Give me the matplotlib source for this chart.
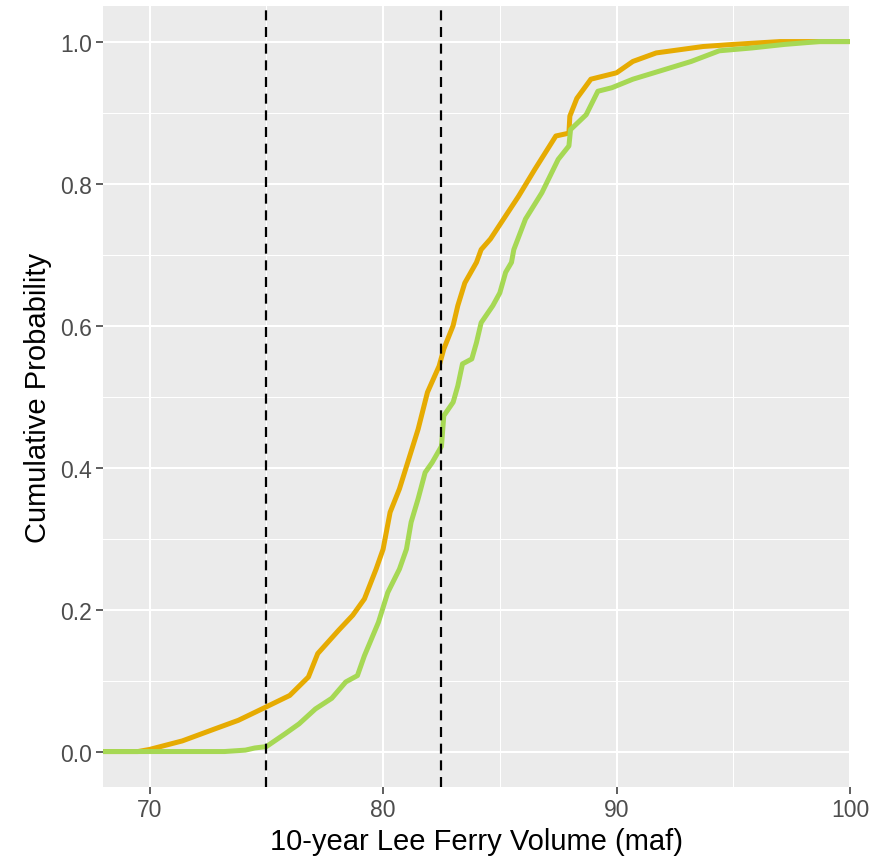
import matplotlib.pyplot as plt
from matplotlib.ticker import MultipleLocator

plt.rcParams['font.family'] = ['Liberation Sans', 'DejaVu Sans']

# === Curves (volume in maf, cumulative probability) ===
orange_x = [68.0, 69.5, 70.0, 71.4, 72.8, 73.8, 75.0, 76.0, 76.8, 77.2, 78.1, 78.7,
            79.2, 79.7, 80.0, 80.3, 80.7, 81.1, 81.5, 81.9, 82.4, 82.6, 83.0, 83.2,
            83.5, 84.0, 84.2, 84.6, 85.8, 86.5, 87.4, 87.96, 88.0, 88.3, 88.9, 90.0,
            90.7, 91.7, 93.7, 95.0, 97.0, 100.0]
orange_y = [0.0, 0.0, 0.003, 0.015, 0.032, 0.044, 0.063, 0.079, 0.105, 0.138, 0.171, 0.192,
            0.215, 0.257, 0.285, 0.337, 0.370, 0.412, 0.454, 0.506, 0.543, 0.567, 0.600, 0.628,
            0.660, 0.689, 0.707, 0.722, 0.782, 0.820, 0.867, 0.871, 0.895, 0.920, 0.947, 0.956,
            0.972, 0.984, 0.993, 0.996, 1.0, 1.0]

green_x = [68.0, 73.2, 74.1, 74.5, 75.0, 75.8, 76.4, 77.1, 77.8, 78.4, 78.9, 79.2,
           79.8, 80.2, 80.7, 81.0, 81.2, 81.5, 81.8, 82.1, 82.5, 82.6, 83.0, 83.2,
           83.4, 83.8, 84.0, 84.2, 84.7, 85.0, 85.25, 85.5, 85.6, 86.1, 86.8, 87.5,
           87.96, 88.03, 88.7, 89.2, 89.8, 90.7, 91.8, 93.2, 94.4, 95.8, 97.2, 98.7, 100.0]
green_y = [0.0, 0.0, 0.002, 0.005, 0.007, 0.025, 0.039, 0.060, 0.075, 0.098, 0.107, 0.135,
           0.182, 0.224, 0.257, 0.285, 0.323, 0.356, 0.393, 0.407, 0.430, 0.473, 0.492, 0.515,
           0.546, 0.553, 0.576, 0.604, 0.628, 0.646, 0.675, 0.689, 0.707, 0.750, 0.787, 0.834,
           0.853, 0.876, 0.897, 0.930, 0.935, 0.947, 0.958, 0.972, 0.987, 0.991, 0.996, 1.0, 1.0]

thresholds = [75.0, 82.5]

fig = plt.figure(figsize=(8.84, 8.62), dpi=100)
ax = fig.add_axes([0.1165, 0.0858, 0.845, 0.906])
ax.set_facecolor('#EBEBEB')

ax.xaxis.set_major_locator(MultipleLocator(10))
ax.xaxis.set_minor_locator(MultipleLocator(5))
ax.yaxis.set_major_locator(MultipleLocator(0.2))
ax.yaxis.set_minor_locator(MultipleLocator(0.1))
ax.grid(which='major', color='white', linewidth=1.5)
ax.grid(which='minor', color='white', linewidth=0.75)
ax.set_axisbelow(True)

ax.plot(orange_x, orange_y, color='#E6AB02', linewidth=3.6, solid_capstyle='butt')
ax.plot(green_x, green_y, color='#A6D854', linewidth=3.6, solid_capstyle='butt')
for t in thresholds:
    ax.axvline(t, color='black', linewidth=1.6, linestyle=(0, (4.5, 3)))

ax.set_xlim(68, 100)
ax.set_ylim(-0.05, 1.05)
ax.set_yticks([0.0, 0.2, 0.4, 0.6, 0.8, 1.0])
ax.set_yticklabels(['0.0', '0.2', '0.4', '0.6', '0.8', '1.0'])
for s in ax.spines.values():
    s.set_visible(False)
ax.tick_params(which='major', length=5, width=1.1, color='#333333',
               labelsize=16.5, labelcolor='#4D4D4D', pad=3)
ax.tick_params(which='minor', length=0)

ax.set_xlabel('10-year Lee Ferry Volume (maf)', fontsize=21, labelpad=4)
ax.set_ylabel('Cumulative Probability', fontsize=21, labelpad=6)

fig.savefig('out.png', dpi=100)
